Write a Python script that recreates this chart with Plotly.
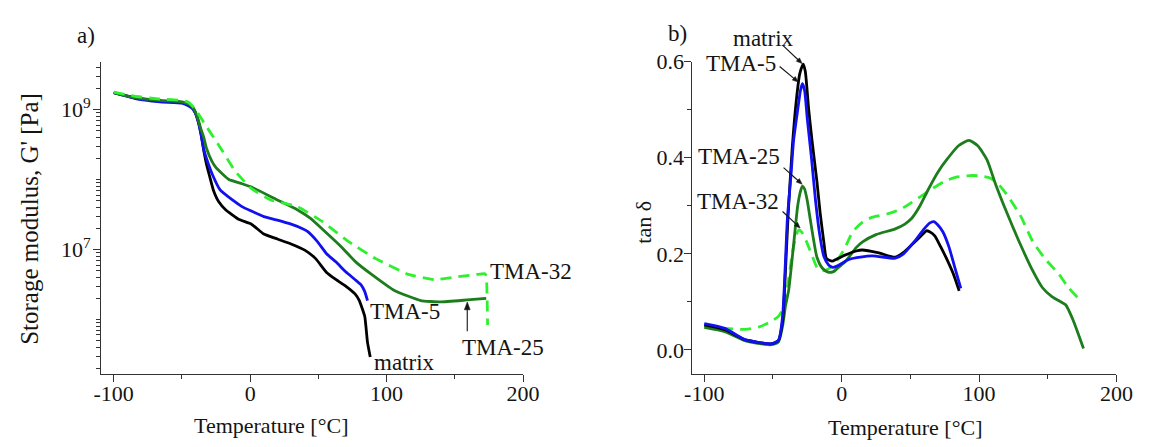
import math
import plotly.graph_objects as go

# ---------------- a) storage modulus G' [Pa] vs temperature [°C] ----------------
t_matrix_g = [-100, -85, -66, -50, -45, -42, -40, -38, -36, -34, -32, -30, -27, -23, -18, -8.5,
              1, 10, 20, 30, 40, 48, 56, 63, 70, 77, 80, 84, 86, 88]
g_matrix = [1.74e9, 1.48e9, 1.32e9, 1.26e9, 1.17e9, 1.05e9, 8.9e8, 6.8e8, 4.5e8, 2.6e8, 1.66e8,
            1.17e8, 7.1e7, 4.8e7, 3.7e7, 2.7e7, 2.3e7, 1.66e7, 1.41e7, 1.2e7, 9.8e6, 7.4e6,
            4.7e6, 3.7e6, 3.0e6, 2.3e6, 1.86e6, 1.1e6, 4.7e5, 2.9e5]

t_tma5_g = [-100, -85, -66, -50, -45, -42, -40, -38, -36, -34, -32, -27.6, -22, -13, -6, 0, 10,
            20, 30, 38, 42, 49, 56, 63, 70, 77, 81, 84, 86]
g_tma5 = [1.74e9, 1.45e9, 1.29e9, 1.23e9, 1.12e9, 1.02e9, 8.7e8, 6.6e8, 4.4e8, 2.7e8, 2.0e8,
          1.17e8, 7.1e7, 5.1e7, 4.1e7, 3.6e7, 2.95e7, 2.63e7, 2.3e7, 2.0e7, 1.82e7, 1.32e7,
          8.7e6, 6.6e6, 4.8e6, 3.7e6, 3.16e6, 2.5e6, 1.86e6]

t_tma25_g = [-100, -85, -66, -50, -45, -42, -40, -38, -36, -34, -32, -28, -25, -15.6, -6, 1, 20,
             34.5, 44, 53, 65.6, 77.5, 89, 106, 125, 139.5, 159, 173]
g_tma25 = [1.74e9, 1.48e9, 1.35e9, 1.29e9, 1.2e9, 1.07e9, 9.1e8, 7.1e8, 5.2e8, 4.0e8, 2.8e8,
           1.82e8, 1.48e8, 1.0e8, 8.7e7, 7.8e7, 5.1e7, 3.7e7, 2.8e7, 1.95e7, 1.15e7, 6.6e6,
           4.4e6, 2.57e6, 1.86e6, 1.78e6, 1.9e6, 2.0e6]

t_tma32_g = [-100, -85, -66, -50, -45, -40, -37, -32.5, -23, -11, 1, 15, 34.5, 53, 73, 92, 116,
             135, 149, 166, 172, 173, 174]
g_tma32 = [1.78e9, 1.55e9, 1.41e9, 1.35e9, 1.26e9, 1.0e9, 8.1e8, 5.9e8, 3.1e8, 1.32e8, 7.4e7,
           5.1e7, 4.1e7, 2.5e7, 1.26e7, 7.4e6, 4.4e6, 3.7e6, 4.0e6, 4.4e6, 4.5e6, 4.2e6, 8.3e5]

# ---------------- b) loss factor tan delta vs temperature [°C] ----------------
t_matrix_d = [-100, -85, -71, -61, -51, -46, -43, -41, -39, -36, -33, -30.5, -28, -26.5, -24,
              -21.6, -18, -15.7, -13, -11, -7, -3.8, 3, 10.5, 15, 27, 39, 45, 51, 57, 61.7, 64,
              67.6, 72, 76, 81, 85.5]
d_matrix = [0.052, 0.042, 0.022, 0.016, 0.013, 0.02, 0.06, 0.16, 0.28, 0.42, 0.52, 0.575, 0.595,
            0.58, 0.50, 0.436, 0.35, 0.286, 0.225, 0.19, 0.185, 0.189, 0.198, 0.206, 0.208,
            0.202, 0.193, 0.203, 0.219, 0.235, 0.248, 0.246, 0.238, 0.215, 0.192, 0.16, 0.123]

t_tma5_d = [-100, -85, -71, -61, -51, -46, -43, -41, -39.5, -37, -35, -32, -30, -28.6, -27, -25,
            -22, -19, -16, -13, -9.5, -6.4, -3, 5.7, 22, 39, 45, 53, 60, 64, 67, 70, 73.6, 78,
            82, 86.7]
d_tma5 = [0.055, 0.045, 0.022, 0.016, 0.013, 0.02, 0.07, 0.18, 0.274, 0.36, 0.436, 0.50, 0.54,
          0.554, 0.54, 0.48, 0.40, 0.31, 0.24, 0.195, 0.177, 0.172, 0.175, 0.189, 0.196, 0.191,
          0.200, 0.226, 0.252, 0.264, 0.267, 0.26, 0.246, 0.215, 0.175, 0.128]

t_tma25_d = [-100, -85, -71, -61, -51, -46, -43, -41, -38.6, -35, -32, -30, -28.6, -27, -25, -23,
             -20.5, -18, -14, -10, -6, -3.8, 3, 10.5, 15.2, 25, 39, 46, 51, 57, 63, 70, 77, 85,
             92.6, 99, 105.7, 112, 120, 130, 139, 146, 153, 159, 163, 168, 172, 176]
d_tma25 = [0.047, 0.038, 0.02, 0.014, 0.011, 0.017, 0.05, 0.09, 0.124, 0.219, 0.30, 0.33, 0.341,
           0.335, 0.31, 0.274, 0.23, 0.193, 0.17, 0.162, 0.163, 0.168, 0.185, 0.213, 0.225,
           0.24, 0.252, 0.262, 0.274, 0.30, 0.334, 0.37, 0.398, 0.425, 0.436, 0.425, 0.396,
           0.345, 0.287, 0.22, 0.165, 0.13, 0.111, 0.101, 0.094, 0.065, 0.035, 0.003]

t_tma32_d = [-100, -85, -70, -60, -51, -46, -42, -39.5, -36, -33, -31, -29, -26, -22, -18, -14.5,
             -10, -3.8, 2, 8, 15.2, 22, 33, 43, 51, 63, 74.8, 84, 93.8, 101, 108, 114, 120, 130,
             139, 148, 158, 165, 172]
d_tma32 = [0.05, 0.045, 0.043, 0.048, 0.06, 0.07, 0.09, 0.13, 0.2, 0.24, 0.25, 0.245, 0.228,
           0.20, 0.172, 0.165, 0.168, 0.185, 0.21, 0.246, 0.266, 0.276, 0.283, 0.293, 0.307,
           0.33, 0.351, 0.36, 0.363, 0.362, 0.358, 0.345, 0.324, 0.28, 0.226, 0.19, 0.158,
           0.13, 0.108]

x_ticks = [-100, 0, 100, 200]
x_ticktext = ["-100", "0", "100", "200"]
x_minor = [-50, 50, 150]
g_ticks = [1e7, 1e9]
g_ticktext = ["10<sup>7</sup>", "10<sup>9</sup>"]
d_ticks = [0.0, 0.2, 0.4, 0.6]
d_ticktext = ["0.0", "0.2", "0.4", "0.6"]
d_minor = [0.1, 0.3, 0.5]

W, H = 1157, 447
FONT = "Liberation Serif"
TXT = "#141414"
AX = "#333333"
BLACK = "#000000"
BLUE = "#1010f0"
DGREEN = "#1d7d1d"
LGREEN = "#2ef02e"
LW = 2.8
DASH = "11px,7px"


def px(x):
    return x / W


def py(y):
    return 1 - y / H


fig = go.Figure()

series_g = [
    (t_matrix_g, g_matrix, BLACK, "solid"),
    (t_tma5_g, g_tma5, BLUE, "solid"),
    (t_tma25_g, g_tma25, DGREEN, "solid"),
    (t_tma32_g, g_tma32, LGREEN, DASH),
]
for tx, gy, col, dash in series_g:
    fig.add_trace(go.Scatter(x=tx, y=gy, mode="lines", xaxis="x", yaxis="y",
                             line=dict(color=col, width=LW, dash=dash, shape="spline",
                                       smoothing=0.4),
                             showlegend=False, hoverinfo="skip"))

series_d = [
    (t_tma32_d, d_tma32, LGREEN, DASH),
    (t_tma25_d, d_tma25, DGREEN, "solid"),
    (t_matrix_d, d_matrix, BLACK, "solid"),
    (t_tma5_d, d_tma5, BLUE, "solid"),
]
for tx, dy, col, dash in series_d:
    fig.add_trace(go.Scatter(x=tx, y=dy, mode="lines", xaxis="x2", yaxis="y2",
                             line=dict(color=col, width=LW, dash=dash, shape="spline",
                                       smoothing=0.6),
                             showlegend=False, hoverinfo="skip"))

# log-scale minor tick positions: every 1..9 x decade that is not a labelled decade
g_minor = [k * 10 ** d for d in range(5, 10) for k in range(1, 10)
           if 1.7e5 <= k * 10 ** d <= 4.8e9 and k * 10 ** d not in g_ticks]

axis_common = dict(showgrid=False, zeroline=False, showline=True, linecolor=AX,
                   linewidth=1, ticks="outside", ticklen=7, tickcolor=AX,
                   tickfont=dict(family=FONT, size=22, color=TXT))
minor_common = dict(ticks="outside", ticklen=4, tickcolor=AX)

fig.update_layout(
    width=W, height=H,
    margin=dict(l=0, r=0, t=0, b=0),
    paper_bgcolor="white", plot_bgcolor="white",
    xaxis=dict(domain=[px(96), px(527)], range=[-109.3, 200], tickvals=x_ticks,
               ticktext=x_ticktext, ticklabelstandoff=-7,
               minor=dict(tickvals=x_minor, **minor_common), anchor="y", **axis_common),
    yaxis=dict(domain=[py(372), py(51)], type="log", range=[5.22, 9.685],
               tickvals=g_ticks, ticktext=g_ticktext, ticklabelstandoff=-2,
               minor=dict(tickvals=g_minor, **minor_common), anchor="x", **axis_common),
    xaxis2=dict(domain=[px(699), px(1133)], range=[-109.3, 200], tickvals=x_ticks,
                ticktext=x_ticktext, ticklabelstandoff=-7,
                minor=dict(tickvals=x_minor, **minor_common), anchor="y2", **axis_common),
    yaxis2=dict(domain=[py(372), py(51)], range=[-0.05, 0.6], tickvals=d_ticks,
                ticktext=d_ticktext, ticklabelstandoff=-5,
                minor=dict(tickvals=d_minor, **minor_common), anchor="x2", **axis_common),
)


def label(text, x, y, size=23, angle=0):
    fig.add_annotation(text=text, x=px(x), y=py(y), xref="paper", yref="paper",
                       showarrow=False, textangle=angle, xanchor="center", yanchor="middle",
                       font=dict(family=FONT, size=size, color=TXT))


def pointer(x0, y0, x1, y1, head=6.0, half=2.4, width=1.1):
    """Leader line from (x0, y0) to an arrow tip at (x1, y1), in page pixels."""
    dx, dy = x1 - x0, y1 - y0
    n = math.hypot(dx, dy)
    ux, uy = dx / n, dy / n
    bx, by = x1 - ux * head, y1 - uy * head
    fig.add_shape(type="line", xref="paper", yref="paper",
                  x0=px(x0), y0=py(y0), x1=px(bx + ux), y1=py(by + uy),
                  line=dict(color=TXT, width=width))
    pts = [(x1, y1), (bx - uy * half, by + ux * half), (bx + uy * half, by - ux * half)]
    path = "M " + " L ".join(f"{px(a):.5f},{py(b):.5f}" for a, b in pts) + " Z"
    fig.add_shape(type="path", xref="paper", yref="paper", path=path,
                  fillcolor=TXT, line=dict(color=TXT, width=0.5))


# axis titles and panel letters
label("Storage modulus, G' [Pa]", 23, 213, size=25, angle=-90)
label("Temperature [°C]", 270, 425, size=22)
label("a)", 81, 24, size=23)
label("tan δ", 650, 216, size=22, angle=-90)
label("Temperature [°C]", 917, 427, size=22)
label("b)", 685, 22, size=23)

# curve labels, panel a
label("TMA-32", 535, 267)
label("TMA-5", 406, 308)
label("TMA-25", 507, 345)
label("matrix", 406, 360)
pointer(470, 328, 470, 298, head=8, half=3)

# curve labels, panel b
label("matrix", 773, 27)
label("TMA-5", 750, 53)
label("TMA-25", 747, 148)
label("TMA-32", 746, 195)
pointer(792, 34, 812, 53)
pointer(789, 56, 808, 72)
pointer(793, 160, 812, 177)
pointer(792, 205, 810, 222)

fig.write_html("out.html")
